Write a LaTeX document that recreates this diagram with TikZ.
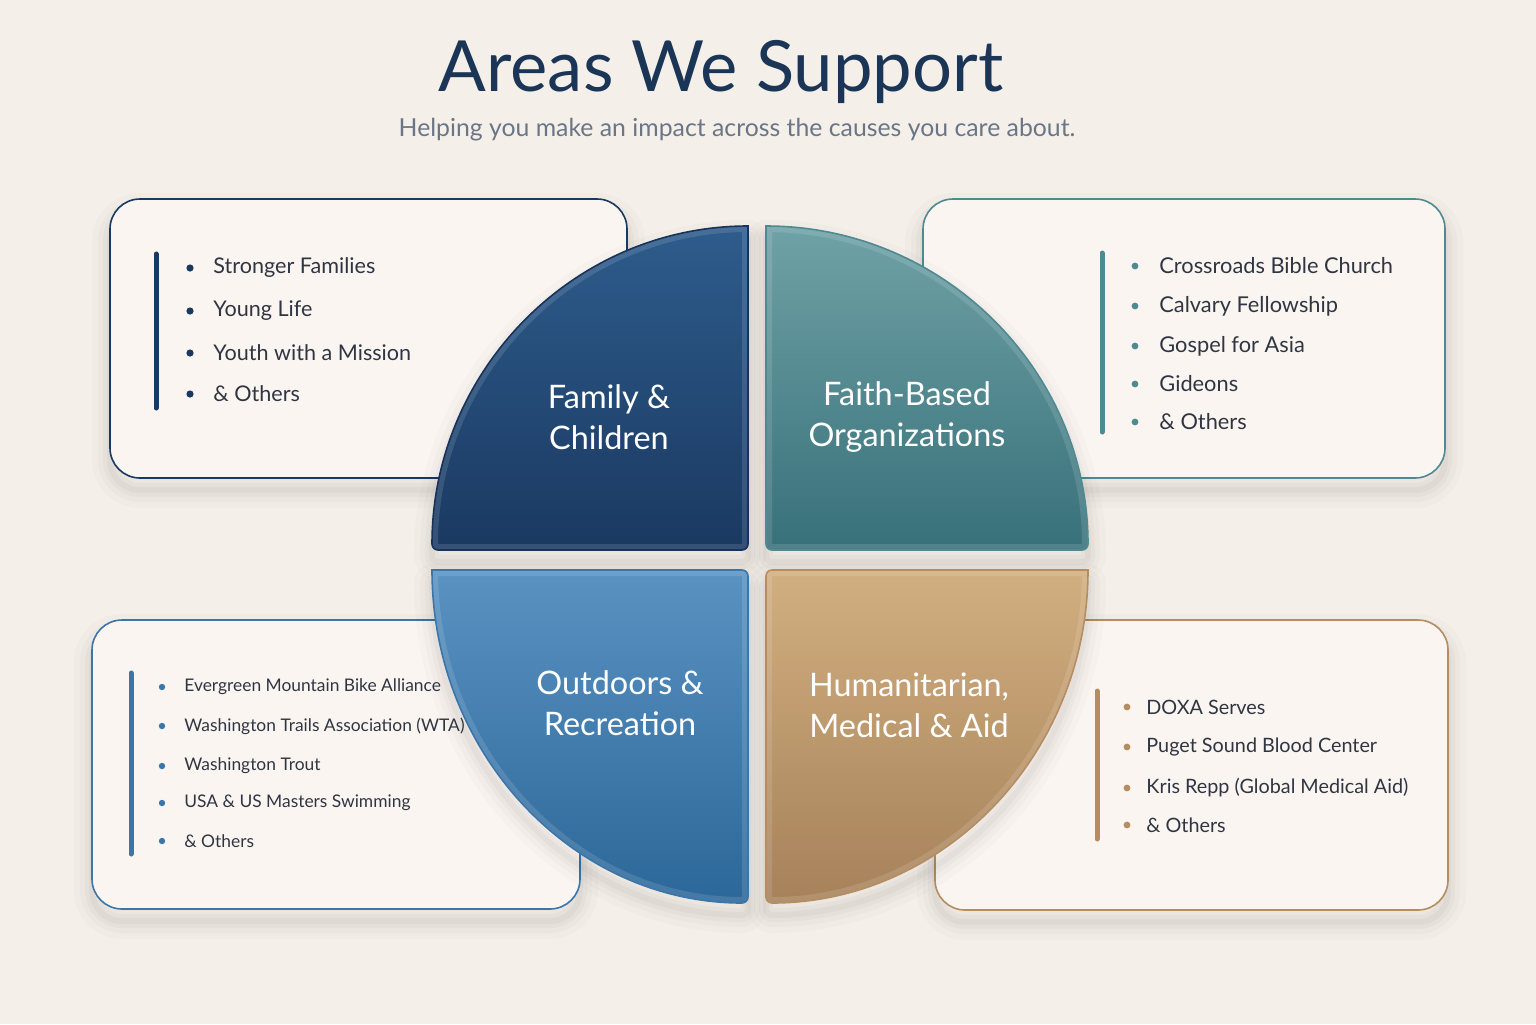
\documentclass[tikz,border=0pt]{standalone}
\usepackage{fontspec}
\setmainfont{Lato}
\definecolor{bg}{HTML}{F5EFEA}
\definecolor{card}{HTML}{FBF5F2}
\definecolor{navyT}{HTML}{2E5C8C}
\definecolor{navyB}{HTML}{1A3961}
\definecolor{navyE}{HTML}{17335A}
\definecolor{tealT}{HTML}{6FA2A6}
\definecolor{tealB}{HTML}{38707A}
\definecolor{tealE}{HTML}{4F8A92}
\definecolor{blueT}{HTML}{5A93C2}
\definecolor{blueB}{HTML}{2C6799}
\definecolor{blueE}{HTML}{3A76AA}
\definecolor{tanT}{HTML}{D2AF80}
\definecolor{tanB}{HTML}{A6815A}
\definecolor{tanE}{HTML}{B58D60}
\definecolor{titlec}{HTML}{1B3556}
\definecolor{subc}{HTML}{6A7686}
\definecolor{txt}{HTML}{2F3642}
\tikzset{
  cardbox/.style={fill=card, draw=#1, line width=0.8pt, rounded corners=15pt},
  quadlabel/.style={text=white, align=center, font=\fontsize{16.2}{20.5}\selectfont},
  itemtext/.style={anchor=west, text=txt, inner sep=0pt, font=\fontsize{#1}{12}\selectfont},
  smallitem/.style={anchor=west, text=txt, inner sep=0pt, font=\fontsize{8.7}{10}\selectfont},
  dotmark/.style={fill=#1, draw=none},
  sidebar/.style={line width=2.5pt, line cap=round, draw=#1},
}
\newcommand\softshadow[1]{%
  \foreach \w/\o in {18/0.014,12/0.018,7/0.022,3/0.028} {%
    \draw[black, opacity=\o, line width=\w pt, line join=round, yshift=-6pt] #1;}%
}
\def\cardTL{(110,199) rectangle (627,478)}
\def\cardTR{(923,199) rectangle (1445,478)}
\def\cardBL{(92,620) rectangle (580,909)}
\def\cardBR{(935,620) rectangle (1448,910)}
\def\quadTL{(748,226) [rounded corners=3pt] -- (748,550) -- (432,550) [sharp corners] .. controls (432,371) and (573.5,226) .. (748,226) -- cycle}
\def\quadTR{(766,226) [rounded corners=3pt] -- (766,550) -- (1088,550) [sharp corners] .. controls (1088,371) and (943.8,226) .. (766,226) -- cycle}
\def\quadBL{(432,570) [rounded corners=3pt] -- (748,570) -- (748,903) [sharp corners] .. controls (573.5,903) and (432,753.9) .. (432,570) -- cycle}
\def\quadBR{(1088,570) [rounded corners=3pt] -- (766,570) -- (766,903) [sharp corners] .. controls (943.8,903) and (1088,753.9) .. (1088,570) -- cycle}
\begin{document}
\begin{tikzpicture}[x=0.5pt,y=-0.5pt]
\useasboundingbox (0,0) rectangle (1536,1024);
\fill[bg] (0,0) rectangle (1536,1024);

% title
\node[text=titlec, font=\fontsize{35.3}{40}\selectfont, inner sep=0pt] (title) at (721,72) {Areas We Support};
\node[text=subc, font=\fontsize{12.4}{14}\selectfont, inner sep=0pt] (subtitle) at (737,130) {Helping you make an impact across the causes you care about.};

% card shadows
\softshadow{[rounded corners=15pt] \cardTL}
\softshadow{[rounded corners=15pt] \cardTR}
\softshadow{[rounded corners=15pt] \cardBL}
\softshadow{[rounded corners=15pt] \cardBR}

% cards
\path[cardbox=navyB] \cardTL;
\path[cardbox=tealE] \cardTR;
\path[cardbox=blueE] \cardBL;
\path[cardbox=tanE] \cardBR;

% quadrant shadows
\softshadow{\quadTL}
\softshadow{\quadTR}
\softshadow{\quadBL}
\softshadow{\quadBR}

% quadrants
\shade[top color=navyT, bottom color=navyB] \quadTL;
\begin{scope}\clip \quadTL; \draw[white, opacity=0.12, line width=6pt] \quadTL; \end{scope}
\draw[navyE, line width=0.8pt] \quadTL;

\shade[top color=tealT, bottom color=tealB] \quadTR;
\begin{scope}\clip \quadTR; \draw[white, opacity=0.12, line width=6pt] \quadTR; \end{scope}
\draw[tealE, line width=0.8pt] \quadTR;

\shade[top color=blueT, bottom color=blueB] \quadBL;
\begin{scope}\clip \quadBL; \draw[white, opacity=0.12, line width=6pt] \quadBL; \end{scope}
\draw[blueE, line width=0.8pt] \quadBL;

\shade[top color=tanT, bottom color=tanB] \quadBR;
\begin{scope}\clip \quadBR; \draw[white, opacity=0.12, line width=6pt] \quadBR; \end{scope}
\draw[tanE, line width=0.8pt] \quadBR;

% quadrant labels
\node[quadlabel] (lfam) at (609,417) {Family \&\\Children};
\node[quadlabel] (lfaith) at (907,417) {Faith-Based\\Organizations};
\node[quadlabel] (lout) at (620,703) {Outdoors \&\\Recreation};
\node[quadlabel] (lhum) at (909,705) {Humanitarian,\\Medical \& Aid};

% TL list
\coordinate (tlbar1) at (156,254); \coordinate (tlbar2) at (156,408);
\draw[sidebar=navyB] (tlbar1) -- (tlbar2);
\foreach \y/\t [count=\i] in {268/Stronger Families,311/Young Life,353/Youth with a Mission,394/\& Others} {
  \fill[dotmark=navyB] (190,\y) circle[radius=3.6];
  \node[itemtext=10.8] (tl\i) at (213,\y) {\t};
}

% TR list
\coordinate (trbar1) at (1102,253); \coordinate (trbar2) at (1102,432);
\draw[sidebar=tealE] (trbar1) -- (trbar2);
\foreach \y/\t [count=\i] in {266/Crossroads Bible Church,306/Calvary Fellowship,346/Gospel for Asia,384/Gideons,422/\& Others} {
  \fill[dotmark=tealE] (1135,\y) circle[radius=3.4];
  \node[itemtext=10.9] (tr\i) at (1159,\y) {\t};
}

% BL list
\coordinate (blbar1) at (131,673); \coordinate (blbar2) at (131,854);
\draw[sidebar=blueE] (blbar1) -- (blbar2);
\foreach \y/\t [count=\i] in {687/Evergreen Mountain Bike Alliance,726/Washington Trails Association (WTA),766/Washington Trout,803/USA \& US Masters Swimming,841/\& Others} {
  \fill[dotmark=blueE] (162,\y) circle[radius=3.2];
  \node[smallitem] (bl\i) at (184,\y) {\t};
}

% BR list
\coordinate (brbar1) at (1097,691); \coordinate (brbar2) at (1097,839);
\draw[sidebar=tanE] (brbar1) -- (brbar2);
\foreach \y/\t [count=\i] in {707/DOXA Serves,747/Puget Sound Blood Center,788/Kris Repp (Global Medical Aid),825/\& Others} {
  \fill[dotmark=tanE] (1127,\y) circle[radius=3.4];
  \node[itemtext=9.9] (br\i) at (1146,\y) {\t};
}
\end{tikzpicture}
\end{document}
